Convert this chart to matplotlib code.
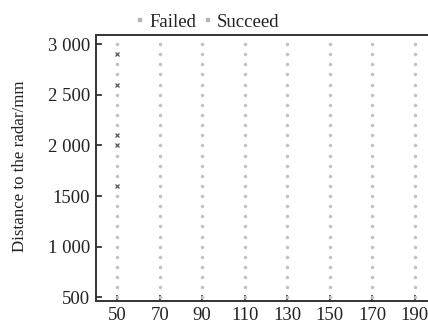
import numpy as np
import matplotlib
matplotlib.use('Agg')
import matplotlib.pyplot as plt

plt.rcParams['font.family'] = 'Liberation Serif'

# angle positions (x) and distances to the radar (y)
angles = [50, 70, 90, 110, 130, 150, 170, 190]
distances = list(range(500, 3001, 100))
# failed detections, all in the 50 column
failed_x = [50, 50, 50, 50, 50]
failed_y = [2900, 2600, 2100, 2000, 1600]

yticks = [500, 1000, 1500, 2000, 2500, 3000]
yticklabels = ['500', '1 000', '1500', '2 000', '2 500', '3 000']

failed = set(zip(failed_x, failed_y))
succ_x = []
succ_y = []
for a in angles:
    for d in distances:
        if (a, d) in failed:
            continue
        succ_x.append(a)
        succ_y.append(d)

fig = plt.figure(figsize=(4.28, 3.23), dpi=100)
ax = fig.add_axes([96 / 428, 22 / 323, 361 / 428, 266 / 323])

ax.plot(succ_x, succ_y, linestyle='none', marker='o', markersize=2.3,
        markeredgewidth=0.2, color='#c2c2c2', label='Succeed')
ax.plot(failed_x, failed_y, linestyle='none', marker='x', markersize=2.6,
        markeredgewidth=0.9, color='#555555', label='Failed')

ax.set_xlim(40, 210)
ax.set_ylim(465, 3089)
ax.set_xticks(angles)
ax.set_yticks(yticks)
ax.set_yticklabels(yticklabels)
ax.tick_params(direction='in', length=4, width=1.2, labelsize=13.5,
               colors='#222222')
ax.tick_params(axis='y', pad=4.3)
ax.tick_params(axis='x', pad=4)
for side in ['left', 'bottom', 'top']:
    ax.spines[side].set_linewidth(1.4)
    ax.spines[side].set_color('#333333')
ax.spines['right'].set_visible(False)

fig.text(20 / 428, 1 - 166 / 323, 'Distance to the radar/mm', rotation=90,
         ha='center', va='center', fontsize=12.2, color='#222222')

h, l = ax.get_legend_handles_labels()
leg = fig.legend([h[1], h[0]], [l[1], l[0]], loc='center',
                 bbox_to_anchor=(208 / 428, 1 - 22 / 323), ncol=2,
                 frameon=False, fontsize=13.5, handlelength=0.4,
                 handletextpad=0.3, columnspacing=0.4, borderpad=0)
for hd in leg.legend_handles:
    hd.set_marker('s')
    hd.set_color('#b4b4b4')
    hd.set_markersize(2.4)
    hd.set_markeredgewidth(0.2)
for t in leg.get_texts():
    t.set_color('#222222')

fig.savefig('out.png', dpi=100)
